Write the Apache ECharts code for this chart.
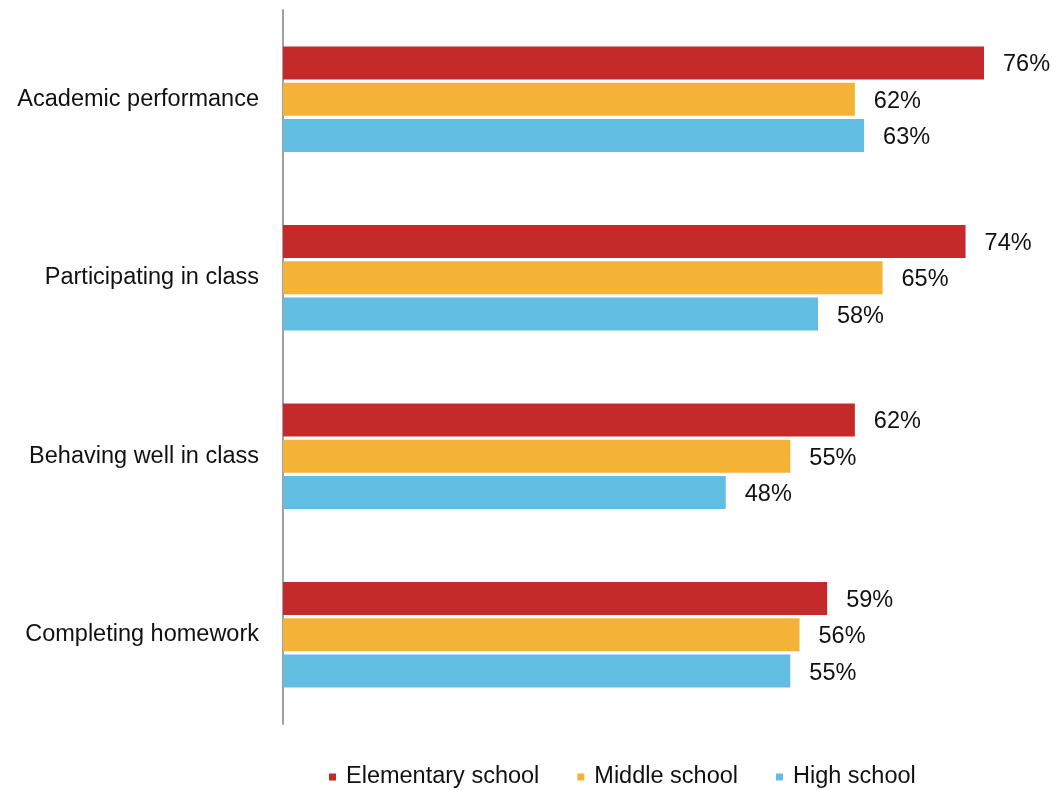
<!DOCTYPE html>
<html>
<head>
<meta charset="utf-8">
<script src="https://cdn.jsdelivr.net/npm/echarts@6/dist/echarts.min.js"></script>
<style>
html,body{margin:0;padding:0;background:#fff;}
#chart{width:1051px;height:790px;}
</style>
</head>
<body>
<div id="chart"></div>
<script>
var categories = ['Academic performance', 'Participating in class', 'Behaving well in class', 'Completing homework'];
var seriesNames = ['Elementary school', 'Middle school', 'High school'];
var elementary = [76, 74, 62, 59];
var middle = [62, 65, 55, 56];
var high = [63, 58, 48, 55];
var colors = ['#C32A29', '#F4B236', '#62BDE2'];

var FONT = '"Liberation Sans", Arial, sans-serif';
var chart = echarts.init(document.getElementById('chart'), null, {renderer: 'canvas'});

function mkSeries(name, data, color) {
  return {
    name: name,
    type: 'bar',
    data: data,
    barWidth: 33,
    barGap: '10%',
    itemStyle: {color: color},
    label: {
      show: true,
      position: 'right',
      distance: 19,
      offset: [0, 2],
      formatter: '{c}%',
      color: '#111',
      fontSize: 23.5,
      fontFamily: FONT
    }
  };
}

chart.setOption({
  animation: false,
  backgroundColor: '#fff',
  grid: {left: 283, right: 30.1, top: 10, bottom: 66, containLabel: false},
  xAxis: {
    type: 'value', min: 0, max: 80, show: false,
    splitLine: {show: false}
  },
  yAxis: {
    type: 'category',
    data: categories,
    inverse: true,
    offset: 2,
    axisTick: {show: false},
    axisLine: {show: true, lineStyle: {color: '#A0A0A0', width: 2}},
    axisLabel: {color: '#111', fontSize: 23.5, fontFamily: FONT, margin: 22},
    splitLine: {show: false}
  },
  legend: {
    data: seriesNames,
    left: 324,
    top: 760,
    icon: 'rect',
    itemWidth: 7,
    itemHeight: 7,
    itemGap: 38,
    textStyle: {color: '#111', fontSize: 23.5, fontFamily: FONT, padding: [0, 0, 0, 5]}
  },
  series: [
    mkSeries(seriesNames[0], elementary, colors[0]),
    mkSeries(seriesNames[1], middle, colors[1]),
    mkSeries(seriesNames[2], high, colors[2])
  ]
});
</script>
</body>
</html>
